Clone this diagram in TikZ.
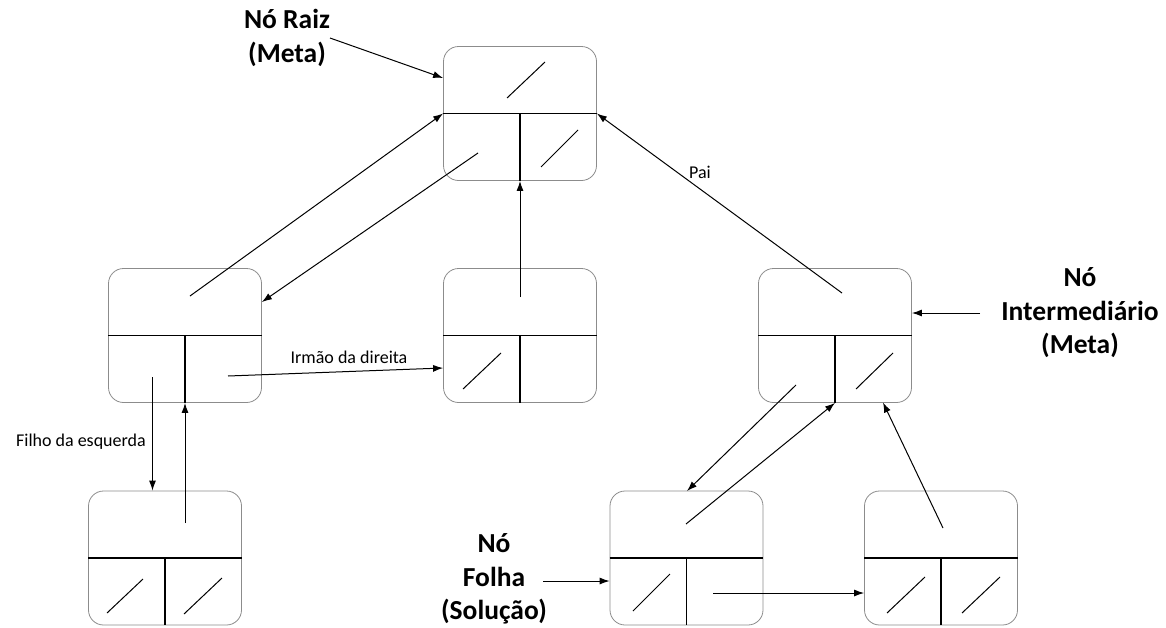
\documentclass[tikz,border=0pt]{standalone}
\usepackage{fontspec}
\setmainfont{Carlito}
\usetikzlibrary{arrows.meta}
\begin{document}
\begin{tikzpicture}[x=1pt,y=-1pt,
  tbox/.style={draw=black!45, line width=0.8pt, rounded corners=15pt, minimum width=153pt, minimum height=134pt, inner sep=0pt},
  divline/.style={line width=1.3pt, black},
  slash/.style={line width=1pt, black},
  conn/.style={line width=1pt, -{Latex[length=10pt,width=7pt]}},
  biglabel/.style={font=\bfseries\fontsize{27.5}{33.5}\selectfont, align=center, inner sep=0pt},
  smalllabel/.style={font=\fontsize{18}{21}\selectfont, inner sep=0pt}]
\useasboundingbox (0,0) rectangle (1166,627);
% boxes
\node[tbox] (root) at (520,113.5) {};
\node[tbox] (L) at (185,335.5) {};
\node[tbox] (M) at (520,335.5) {};
\node[tbox] (R) at (835,335.5) {};
\node[tbox] (BL) at (165,558) {};
\node[tbox] (BM) at (686.5,558) {};
\node[tbox] (BR) at (941,558) {};
\foreach \n in {root,L,M,R,BL,BM,BR}{
  \draw[divline] (\n.west) -- (\n.east);
  \draw[divline] (\n.center) -- (\n.south);
}
% null-pointer slashes
\draw[slash] (507,98) -- (545,62);
\draw[slash] (541,167) -- (578,130);
\draw[slash] (463,389) -- (501,353);
\draw[slash] (856,389) -- (893,353);
\draw[slash] (107,613) -- (143,579);
\draw[slash] (184,614) -- (222,578);
\draw[slash] (633,611) -- (670,574);
\draw[slash] (887,613) -- (925,577);
\draw[slash] (962,613) -- (1000,577);
% pointer origins
\coordinate (Ltop) at (190,296);
\coordinate (rootBL) at (478,153);
\coordinate (Mtop) at (520,297);
\coordinate (Rtop) at (842,293);
\coordinate (LBR) at (228,376);
\coordinate (LBL) at (152.5,377);
\coordinate (MBR) at (563,367);
\coordinate (BLtop) at (185,523);
\coordinate (RBL) at (796,385);
\coordinate (BMtop) at (686,524);
\coordinate (BRtop) at (943,528);
\coordinate (BMBR) at (713,593);
% connectors
\draw[conn] (Ltop) -- (root.west);
\draw[conn] (rootBL) -- (L.east |- 0,302);
\draw[conn] (Mtop) -- (root.south);
\draw[conn] (Rtop) -- (root.east);
\node[smalllabel] (pai) at (700,172) {Pai};
\draw[conn] (LBR) -- (M.west |- 0,368);
\node[smalllabel] (irmao) at (349,357) {Irmão da direita};
\draw[conn] (LBL) -- (LBL |- BL.north) coordinate (BLin);
\node[smalllabel, anchor=east] (filho) at (146,442) {Filho da esquerda};
\draw[conn] (BLtop) -- (BLtop |- L.south);
\draw[conn] (RBL) -- (687,491) coordinate (BMin);
\draw[conn] (BMtop) -- (R.south);
\draw[conn] (BRtop) -- (883,402.5) coordinate (Rin);
\draw[conn] (BMBR) -- (BR.west |- 0,593);
% labels
\node[biglabel] (rootlbl) at (287,38) {Nó Raiz\\(Meta)};
\draw[conn] (330,38) coordinate (rl) -- (root.west |- 0,78);
\node[biglabel] (intlbl) at (1080,313) {Nó\\Intermediário\\(Meta)};
\draw[conn] (980,313) coordinate (il) -- (R.east |- 0,313);
\node[biglabel] (folhalbl) at (494,579) {Nó\\Folha\\(Solução)};
\draw[conn] (543,581) coordinate (fl) -- (BM.west |- 0,581);
\end{tikzpicture}
\end{document}
